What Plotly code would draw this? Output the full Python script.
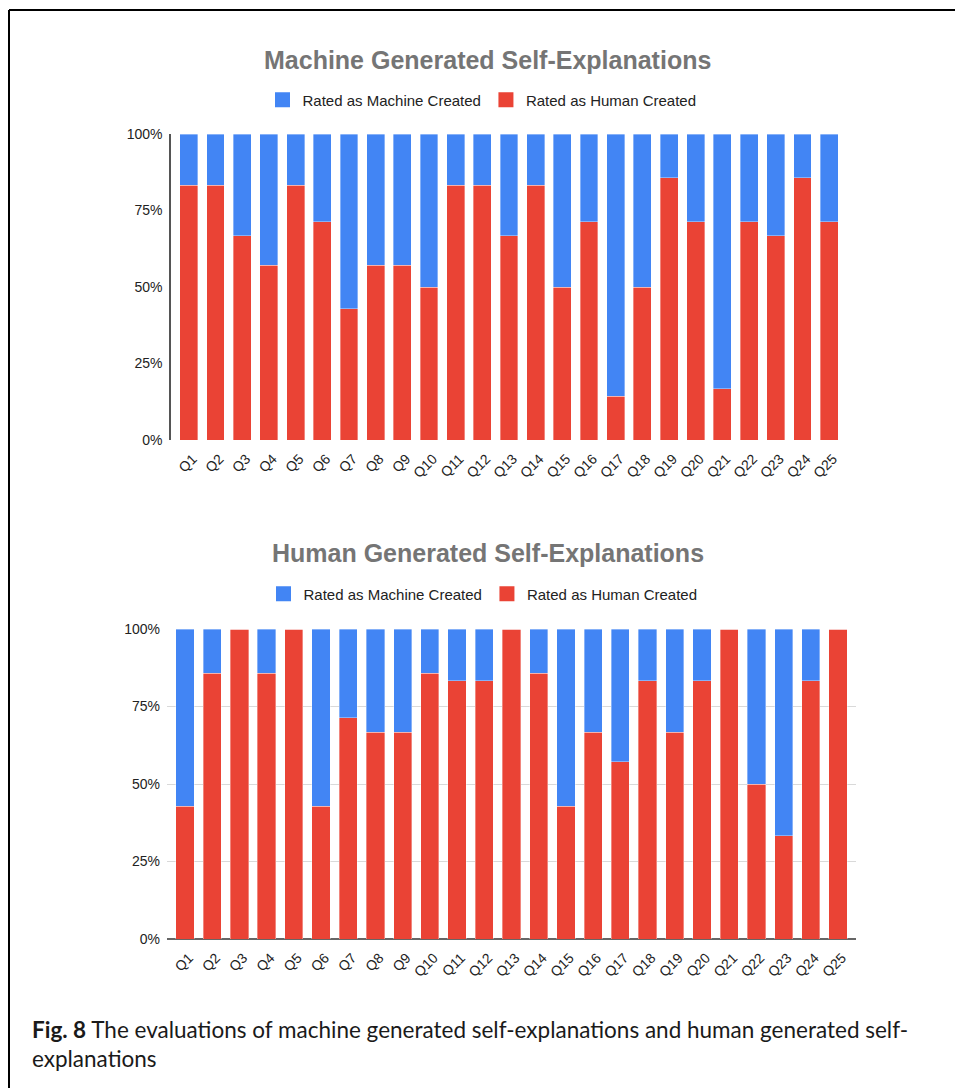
import plotly.graph_objects as go

W, H = 955, 1088

questions = [f"Q{i}" for i in range(1, 26)]

# Machine generated self-explanations (percent of ratings)
machine_gen_human = [83.3, 83.3, 66.7, 57.1, 83.3, 71.4, 42.9, 57.1, 57.1, 50.0,
                     83.3, 83.3, 66.7, 83.3, 50.0, 71.4, 14.3, 50.0, 85.7, 71.4,
                     16.7, 71.4, 66.7, 85.7, 71.4]
machine_gen_machine = [16.7, 16.7, 33.3, 42.9, 16.7, 28.6, 57.1, 42.9, 42.9, 50.0,
                       16.7, 16.7, 33.3, 16.7, 50.0, 28.6, 85.7, 50.0, 14.3, 28.6,
                       83.3, 28.6, 33.3, 14.3, 28.6]

# Human generated self-explanations (percent of ratings)
human_gen_human = [42.9, 85.7, 100.0, 85.7, 100.0, 42.9, 71.4, 66.7, 66.7, 85.7,
                   83.3, 83.3, 100.0, 85.7, 42.9, 66.7, 57.1, 83.3, 66.7, 83.3,
                   100.0, 50.0, 33.3, 83.3, 100.0]
human_gen_machine = [57.1, 14.3, 0.0, 14.3, 0.0, 57.1, 28.6, 33.3, 33.3, 14.3,
                     16.7, 16.7, 0.0, 14.3, 57.1, 33.3, 42.9, 16.7, 33.3, 16.7,
                     0.0, 50.0, 66.7, 16.7, 0.0]

series_names = ["Rated as Machine Created", "Rated as Human Created"]

y_ticks = [0, 25, 50, 75, 100]
y_tick_text = ["0%", "25%", "50%", "75%", "100%"]

BLUE = "#4285f4"
RED = "#ea4335"
FONT = "Liberation Sans, Arial, sans-serif"


def px_x(p):
    return p / W


def px_y(p):
    return 1 - p / H


fig = go.Figure()

edge = dict(width=0.6, color="rgba(255,255,255,0.6)")

# Top chart bars
fig.add_trace(go.Bar(x=questions, y=machine_gen_human, name=series_names[1], showlegend=False,
                     marker=dict(color=RED, line=edge), xaxis="x", yaxis="y"))
fig.add_trace(go.Bar(x=questions, y=machine_gen_machine, name=series_names[0], showlegend=False,
                     marker=dict(color=BLUE, line=edge), xaxis="x", yaxis="y"))
# Bottom chart bars
fig.add_trace(go.Bar(x=questions, y=human_gen_human, name=series_names[1], showlegend=False,
                     marker=dict(color=RED, line=edge), xaxis="x2", yaxis="y2"))
fig.add_trace(go.Bar(x=questions, y=human_gen_machine, name=series_names[0], showlegend=False,
                     marker=dict(color=BLUE, line=edge), xaxis="x2", yaxis="y2"))

# Legend entries (square swatches, as in the original)
for lg, xa, ya in [("legend", "x", "y"), ("legend2", "x2", "y2")]:
    for name, col in zip(series_names, [BLUE, RED]):
        fig.add_trace(go.Scatter(x=[None], y=[None], mode="markers", name=name,
                                 marker=dict(symbol="square", size=15, color=col),
                                 xaxis=xa, yaxis=ya, legend=lg, hoverinfo="skip"))

tick_font = dict(family=FONT, size=14, color="#222222")
legend_font = dict(family=FONT, size=15, color="#222222")

fig.update_layout(
    width=W, height=H, autosize=False,
    margin=dict(l=0, r=0, t=0, b=0, pad=0),
    paper_bgcolor="white", plot_bgcolor="white",
    barmode="stack", bargap=0.33,
    font=dict(family=FONT, color="#222222"),
    xaxis=dict(domain=[px_x(171), px_x(847)], anchor="y", range=[-0.67, 24.67],
               tickangle=-45, tickfont=tick_font, showgrid=False, showline=False,
               ticks="", zeroline=False, automargin=False,
               ticklabelstandoff=7, ticklabelshift=4),
    yaxis=dict(domain=[px_y(440), px_y(134)], anchor="x", range=[0, 100],
               tickvals=y_ticks, ticktext=y_tick_text, tickfont=tick_font,
               showgrid=False, showline=True, linecolor="#555555", linewidth=1.5,
               ticks="", zeroline=False, automargin=False, ticklabelstandoff=4),
    xaxis2=dict(domain=[px_x(167), px_x(856)], anchor="y2", range=[-0.66, 24.66],
                tickangle=-45, tickfont=tick_font, showgrid=False, showline=False,
                ticks="", zeroline=False, automargin=False,
                ticklabelstandoff=7, ticklabelshift=4),
    yaxis2=dict(domain=[px_y(939), px_y(629)], anchor="x2", range=[0, 100],
                tickvals=y_ticks, ticktext=y_tick_text, tickfont=tick_font,
                showgrid=True, gridcolor="#d9d9d9", gridwidth=1,
                zeroline=True, zerolinecolor="#666666", zerolinewidth=1.5,
                showline=False, ticks="", automargin=False, ticklabelstandoff=6),
    legend=dict(orientation="h", x=px_x(482), xanchor="center", y=px_y(100), yanchor="middle",
                font=legend_font, bgcolor="rgba(0,0,0,0)", itemsizing="trace",
                traceorder="normal"),
    legend2=dict(orientation="h", x=px_x(483), xanchor="center", y=px_y(594), yanchor="middle",
                 font=legend_font, bgcolor="rgba(0,0,0,0)", itemsizing="trace",
                 traceorder="normal"),
)

fig.add_annotation(text="<b>Machine Generated Self-Explanations</b>", x=px_x(487), y=px_y(60),
                   xref="paper", yref="paper", showarrow=False, xanchor="center", yanchor="middle",
                   font=dict(family=FONT, size=25, color="#757575"))
fig.add_annotation(text="<b>Human Generated Self-Explanations</b>", x=px_x(488), y=px_y(553),
                   xref="paper", yref="paper", showarrow=False, xanchor="center", yanchor="middle",
                   font=dict(family=FONT, size=25, color="#757575"))

fig.add_annotation(
    text="<b>Fig. 8</b> The evaluations of machine generated self-explanations and human generated self-<br>explanations",
    x=px_x(30), y=px_y(1044), xref="paper", yref="paper", showarrow=False,
    xanchor="left", yanchor="middle", align="left",
    font=dict(family="Lato, Open Sans, sans-serif", size=22.5, color="#1a1a1a"))

# Figure frame (top and left edges)
fig.add_shape(type="line", xref="paper", yref="paper", x0=px_x(9), y0=px_y(10), x1=1, y1=px_y(10),
              line=dict(color="black", width=2))
fig.add_shape(type="line", xref="paper", yref="paper", x0=px_x(9), y0=px_y(10), x1=px_x(9), y1=0,
              line=dict(color="black", width=2))

fig.write_html("out.html", config={"displayModeBar": False},
               post_script="document.body.style.margin='0';document.body.style.overflow='hidden';")
